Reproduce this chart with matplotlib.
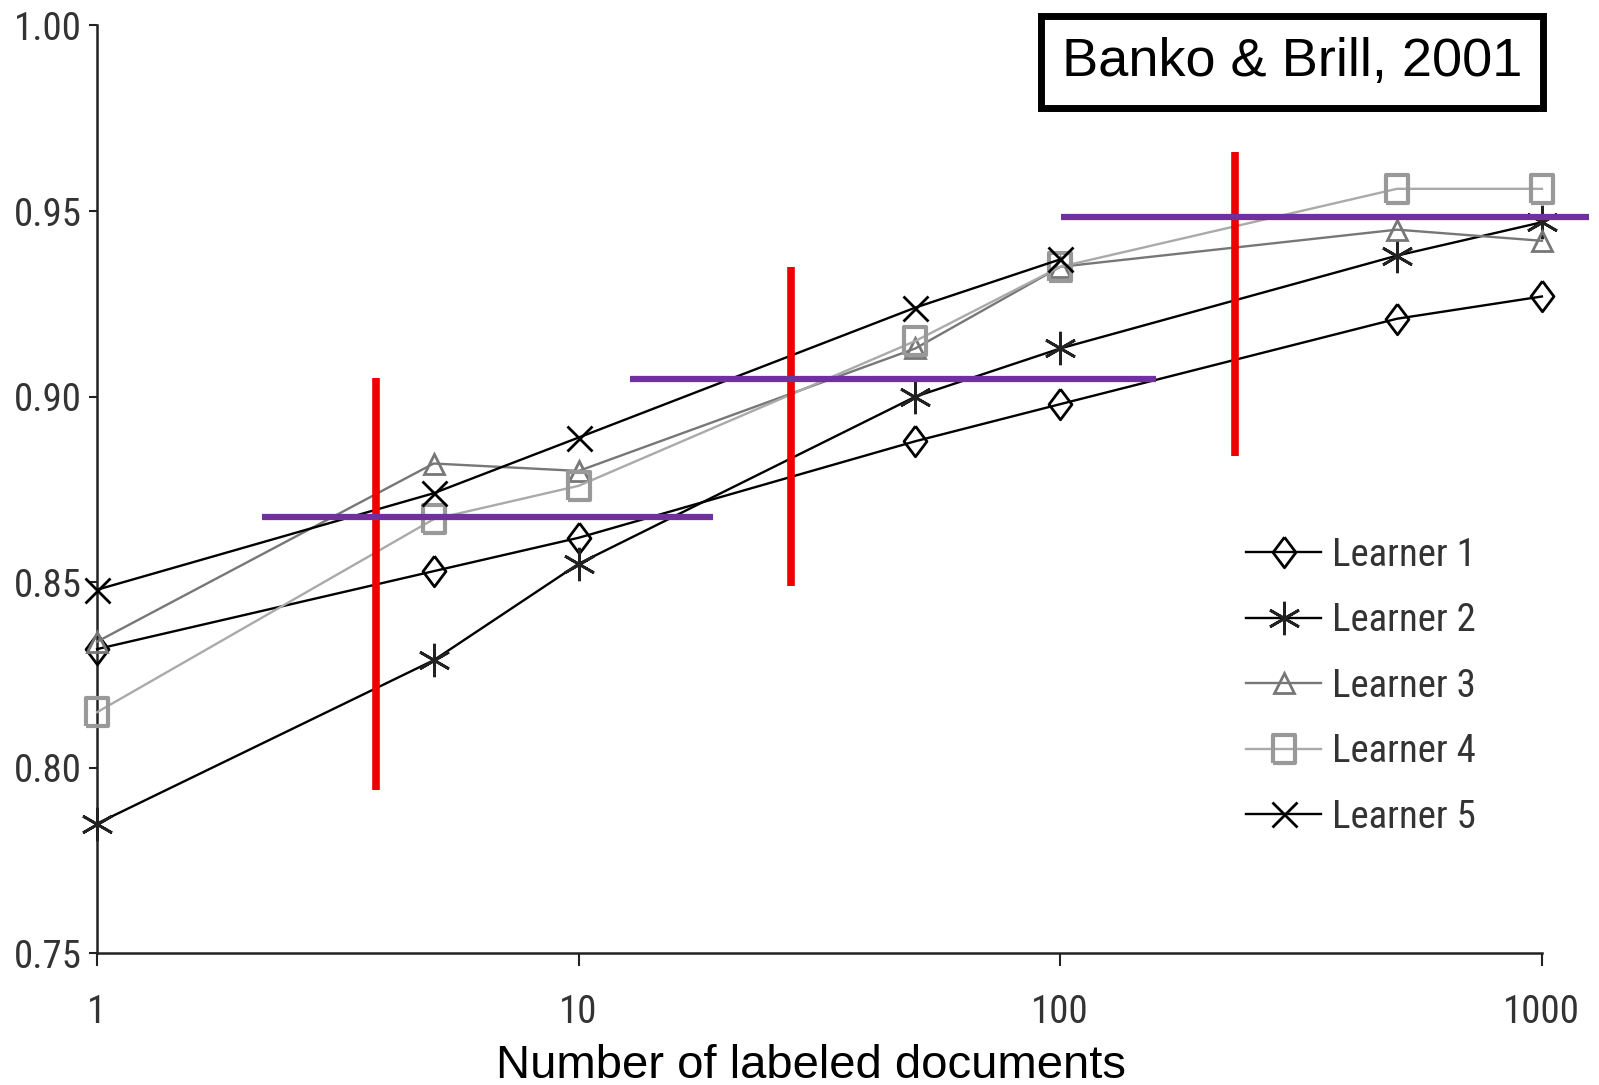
import matplotlib
matplotlib.use('Agg')
import matplotlib.pyplot as plt
from matplotlib import font_manager

# data
docs = [1, 5, 10, 50, 100, 500, 1000]
learner1 = [0.832, 0.853, 0.862, 0.888, 0.898, 0.921, 0.927]
learner2 = [0.785, 0.829, 0.855, 0.900, 0.913, 0.938, 0.947]
learner3 = [0.834, 0.882, 0.880, 0.913, 0.935, 0.945, 0.942]
learner4 = [0.815, 0.867, 0.876, 0.915, 0.935, 0.956, 0.956]
docs5 = [1, 5, 10, 50, 100]
learner5 = [0.848, 0.874, 0.889, 0.924, 0.937]

y_ticks = [0.75, 0.80, 0.85, 0.90, 0.95, 1.00]
x_ticks = [1, 10, 100, 1000]

# annotation overlays (red vertical, purple horizontal)
red_x = [3.8, 27.6, 231]
red_lo = [0.794, 0.849, 0.884]
red_hi = [0.905, 0.935, 0.966]
purple_y = [0.8676, 0.9047, 0.9484]
purple_lo = [2.2, 12.8, 100.5]
purple_hi = [19.0, 158, 1251]

# look for a condensed face, otherwise shrink a regular one
names = set(f.name for f in font_manager.fontManager.ttflist)
narrow = None
for cand in ['Liberation Sans Narrow', 'Roboto Condensed', 'Open Sans Condensed',
             'DejaVu Sans Condensed', 'Arial Narrow']:
    if cand in names:
        narrow = cand
        break
if narrow:
    small = {'family': narrow, 'size': 28}
else:
    small = {'family': 'Liberation Sans', 'size': 24}
plain = 'Liberation Sans'

diamond = [(0, 1), (0.75, 0), (0, -1), (-0.75, 0), (0, 1)]
square = [(-0.8, -1), (0.8, -1), (0.8, 1), (-0.8, 1), (-0.8, -1)]

fig = plt.figure(figsize=(15.99, 10.85), dpi=100)
ax = fig.add_axes([0.0607, 0.1212, 0.9036, 0.8553])

ax.plot(docs, learner1, color='black', lw=1.7, marker=diamond, ms=22, mfc='none',
        mec='black', mew=2, label='Learner 1', clip_on=False, zorder=3)
ax.plot(docs, learner2, color='black', lw=1.7, marker=(6, 2, 0), ms=24,
        mec='#222222', mew=2, label='Learner 2', clip_on=False, zorder=3)
ax.plot(docs, learner3, color='#777777', lw=1.7, marker='^', ms=15, mfc='none',
        mec='#777777', mew=2, label='Learner 3', clip_on=False, zorder=3)
ax.plot(docs, learner4, color='#aaaaaa', lw=1.7, marker=square, ms=20, mfc='none',
        mec='#999999', mew=3, label='Learner 4', clip_on=False, zorder=3)
ax.plot(docs5, learner5, color='black', lw=1.7, marker='x', ms=18,
        mec='black', mew=2, label='Learner 5', clip_on=False, zorder=3)

ax.vlines(red_x, red_lo, red_hi, colors='#ee0000', lw=5.5, zorder=4, clip_on=False)
ax.hlines(purple_y, purple_lo, purple_hi, colors='#7030a0', lw=4.5, zorder=4, clip_on=False)

ax.set_xscale('log')
ax.set_xlim(1, 1000)
ax.set_ylim(0.75, 1.0)
ax.set_xticks(x_ticks)
ax.set_xticklabels([str(v) for v in x_ticks])
ax.minorticks_off()
ax.set_yticks(y_ticks)
ax.set_yticklabels([f'{v:.2f}' for v in y_ticks])

for s in ['top', 'right']:
    ax.spines[s].set_visible(False)
for s in ['left', 'bottom']:
    ax.spines[s].set_linewidth(1.8)
    ax.spines[s].set_color('#222222')

ax.tick_params(axis='y', length=6, width=1.5, pad=5, colors='#222222')
ax.tick_params(axis='x', length=9, width=1.5, pad=20, colors='#222222')
for lab in ax.get_xticklabels() + ax.get_yticklabels():
    lab.set_family(small['family'])
    lab.set_fontsize(small['size'])
    lab.set_color('#333333')

leg = ax.legend(loc='upper left', bbox_to_anchor=(1246 / 1599, 1 - 537 / 1085),
                bbox_transform=fig.transFigure, frameon=False, borderpad=0,
                borderaxespad=0, handlelength=1.94, handletextpad=0.27,
                labelspacing=0.73, prop=small)
for t in leg.get_texts():
    t.set_color('#333333')

fig.text(1292 / 1599, 1 - 62 / 1085, 'Banko & Brill, 2001', family=plain, fontsize=39,
         ha='center', va='center',
         bbox=dict(boxstyle='square,pad=0.38', fc='white', ec='black', lw=5))

fig.text(0.507, 0.0065, 'Number of labeled documents', family=plain, fontsize=34,
         ha='center', va='baseline')

fig.savefig('out.png', dpi=100)
